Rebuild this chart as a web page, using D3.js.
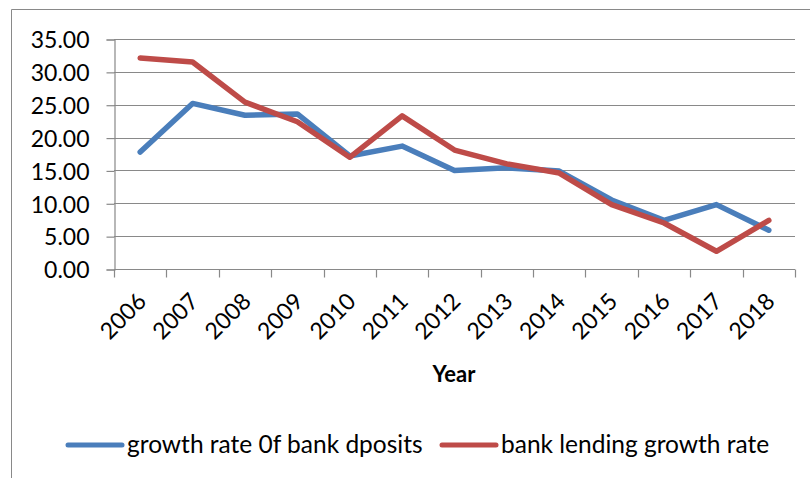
<!DOCTYPE html>
<html>
<head>
<meta charset="utf-8">
<script src="https://cdn.jsdelivr.net/npm/d3@7"></script>
<style>
  body { margin: 0; background: #fff; }
  text { font-family: Lato, "Open Sans", sans-serif; fill: #000; }
</style>
</head>
<body>
<script>
var years = ["2006","2007","2008","2009","2010","2011","2012","2013","2014","2015","2016","2017","2018"];
var deposits = [17.8, 25.2, 23.4, 23.6, 17.2, 18.7, 15.0, 15.4, 14.9, 10.5, 7.4, 9.8, 5.9];
var lending = [32.1, 31.5, 25.4, 22.4, 17.0, 23.3, 18.1, 16.0, 14.6, 9.8, 7.0, 2.7, 7.4];
var yTicks = [0, 5, 10, 15, 20, 25, 30, 35];
var seriesNames = ["growth rate 0f bank dposits", "bank lending growth rate"];
var colors = ["#4a7ebb", "#be4b48"];

var W = 810, H = 478;
var plotL = 114, plotR = 795, plotT = 39, plotB = 269;
var fontSize = "23px";

var svg = d3.select("body").append("svg")
    .attr("width", W)
    .attr("height", H);

// outer frame (cut off at right / bottom)
svg.append("path")
    .attr("d", "M11.5," + H + " L11.5,9.5 L" + W + ",9.5")
    .style("fill", "none")
    .style("stroke", "#898989")
    .style("stroke-width", 1);

var x = d3.scaleBand().domain(years).range([plotL, plotR]);
var y = d3.scaleLinear().domain([0, 35]).range([plotB, plotT]);

// gridlines
svg.append("g").selectAll("line")
    .data(yTicks.slice(1))
    .enter().append("line")
    .attr("x1", plotL).attr("x2", plotR)
    .attr("y1", function(d) { return Math.round(y(d)) + 0.5; })
    .attr("y2", function(d) { return Math.round(y(d)) + 0.5; })
    .style("stroke", "#898989")
    .style("stroke-width", 1.2);

// y axis
var yAxis = svg.append("g")
    .attr("transform", "translate(" + (plotL + 0.5) + ",0.5)")
    .call(d3.axisLeft(y).tickValues(yTicks).tickSize(8).tickPadding(17)
        .tickFormat(d3.format(".2f")));
yAxis.select(".domain").style("stroke", "#898989").style("stroke-width", 1.2);
yAxis.selectAll(".tick line").style("stroke", "#898989").style("stroke-width", 1.2);
yAxis.selectAll(".tick text")
    .style("font-size", fontSize)
    .style("font-family", "Lato, sans-serif")
    .attr("dy", "0.36em");

// x axis
var xAxis = svg.append("g")
    .attr("transform", "translate(0," + (plotB + 0.5) + ")");
xAxis.append("line")
    .attr("x1", plotL).attr("x2", plotR)
    .style("stroke", "#898989").style("stroke-width", 1.2);
var tickPos = years.map(function(d) { return x(d); }).concat([plotR]);
xAxis.selectAll(".tk")
    .data(tickPos)
    .enter().append("line")
    .attr("x1", function(d) { return Math.round(d) + 0.5; })
    .attr("x2", function(d) { return Math.round(d) + 0.5; })
    .attr("y1", 0).attr("y2", 8)
    .style("stroke", "#898989").style("stroke-width", 1.2);

xAxis.selectAll(".lbl")
    .data(years)
    .enter().append("text")
    .attr("transform", function(d) {
        return "translate(" + (x(d) + x.bandwidth() / 2 - 4) + ",22) rotate(-45)";
    })
    .attr("text-anchor", "end")
    .attr("dy", "0.7em")
    .style("font-size", fontSize)
    .text(function(d) { return d; });

svg.append("text")
    .attr("x", 454)
    .attr("y", 382)
    .attr("text-anchor", "middle")
    .style("font-size", "22px")
    .style("font-weight", "bold")
    .text("Year");

// lines
var line = d3.line()
    .x(function(d, i) { return x(years[i]) + x.bandwidth() / 2; })
    .y(function(d) { return y(d); });

[deposits, lending].forEach(function(s, i) {
    svg.append("path")
        .datum(s)
        .attr("d", line)
        .style("fill", "none")
        .style("stroke", colors[i])
        .style("stroke-width", 5.5)
        .style("stroke-linejoin", "round")
        .style("stroke-linecap", "round");
});

// legend
var legX = [68, 442];
seriesNames.forEach(function(name, i) {
    var g = svg.append("g").attr("transform", "translate(" + legX[i] + ",445)");
    g.append("line")
        .attr("x1", 0).attr("x2", 54)
        .style("stroke", colors[i])
        .style("stroke-width", 5)
        .style("stroke-linecap", "round");
    g.append("text")
        .attr("x", 59)
        .attr("y", 8)
        .style("font-size", "24.5px")
        .text(name);
});
</script>
</body>
</html>
